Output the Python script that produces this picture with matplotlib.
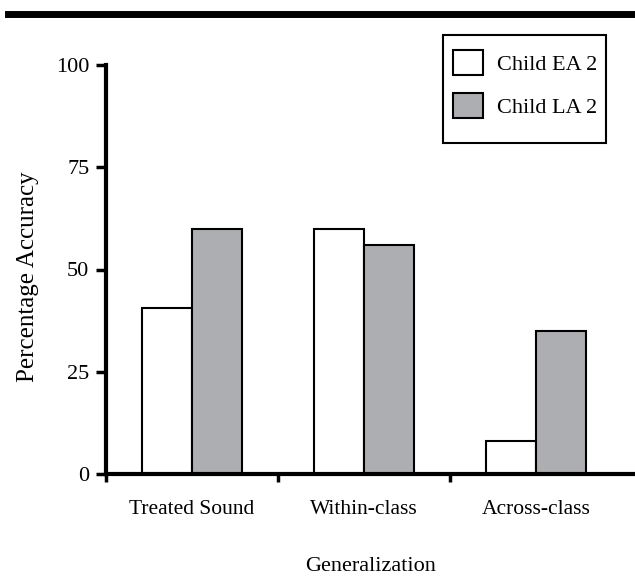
import matplotlib.pyplot as plt
from matplotlib.lines import Line2D
from matplotlib.patches import Rectangle
import numpy as np

categories = ["Treated Sound", "Within-class", "Across-class"]
child_ea2 = [40.5, 60, 8]
child_la2 = [60, 56, 35]
series_names = ["Child EA 2", "Child LA 2"]

plt.rcParams['font.family'] = ['Liberation Serif', 'DejaVu Serif']

W, H = 635, 582
fig = plt.figure(figsize=(W/100, H/100), dpi=100)
ax = fig.add_axes([106/W, 108/H, 529/W, 409/H])

x = np.arange(len(categories))
w = 0.29
ax.bar(x - w/2, child_ea2, w, color='white', edgecolor='black', linewidth=1.5, label=series_names[0])
ax.bar(x + w/2, child_la2, w, color='#adaeb2', edgecolor='black', linewidth=1.5, label=series_names[1])

ax.set_xlim(-0.5, 2.575)
ax.set_ylim(0, 100)
ax.set_yticks([0, 25, 50, 75, 100])
ax.tick_params(axis='y', direction='out', length=7, width=2.5, labelsize=16, pad=5)
ax.set_xticks(x)
ax.set_xticklabels(categories)
ax.tick_params(axis='x', which='major', length=0, labelsize=15.5, pad=19)
ax.set_xticks([-0.5, 0.5, 1.5], minor=True)
ax.tick_params(axis='x', which='minor', direction='out', length=6, width=2.5)

for s in ['top', 'right']:
    ax.spines[s].set_visible(False)
for s in ['left', 'bottom']:
    ax.spines[s].set_linewidth(3)

ax.set_ylabel("Percentage Accuracy", fontsize=18, labelpad=12)
ax.yaxis.label.set_y(0.483)
ax.set_xlabel("Generalization", fontsize=16, labelpad=27)

# legend without its own frame; box drawn separately so padding can differ
leg = ax.legend(loc='upper left', bbox_to_anchor=(453/W, 1 - 50/H), bbox_transform=fig.transFigure,
                borderaxespad=0, borderpad=0, fontsize=16, frameon=False,
                handlelength=1.35, handleheight=1.35, handletextpad=0.63,
                labelspacing=0.8)
for p in leg.get_patches():
    p.set_linewidth(1.5)
fig.add_artist(Rectangle((443/W, 1 - 143/H), 163/W, 108/H, transform=fig.transFigure,
                         facecolor='none', edgecolor='black', linewidth=1.5))

# thick rule across the top
fig.add_artist(Line2D([8/W, 1], [1 - 14/H, 1 - 14/H], color='black', linewidth=5))

fig.savefig("out.png", dpi=100)
